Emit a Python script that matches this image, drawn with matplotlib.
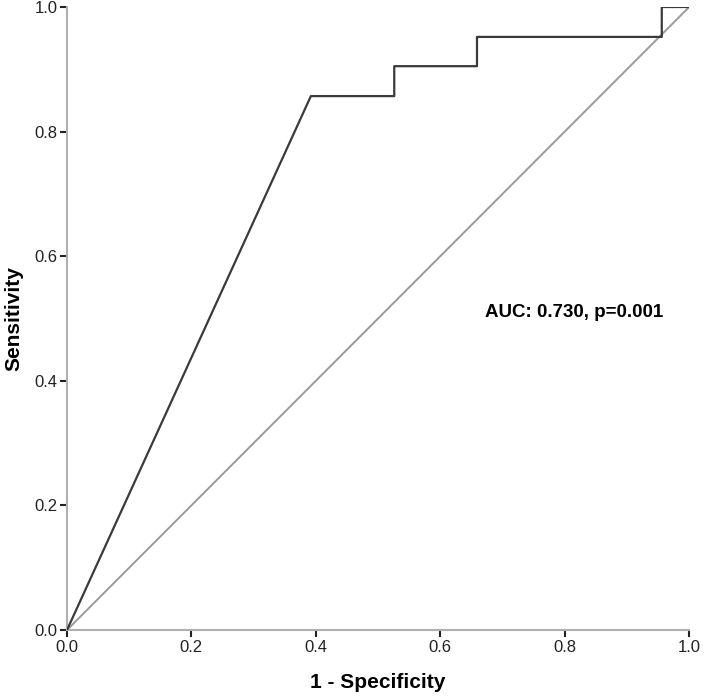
import matplotlib
matplotlib.use("Agg")
import matplotlib.pyplot as plt

plt.rcParams['font.family'] = ['Liberation Sans', 'DejaVu Sans']

# ROC curve points
fpr = [0.0, 0.392, 0.526, 0.526, 0.659, 0.659, 0.956, 0.956, 1.0]
tpr = [0.0, 0.857, 0.857, 0.905, 0.905, 0.952, 0.952, 1.0, 1.0]
ref_line = [0.0, 1.0]
ticks = [0.0, 0.2, 0.4, 0.6, 0.8, 1.0]
auc_text = "AUC: 0.730, p=0.001"

fig = plt.figure(figsize=(7.09, 7.00), dpi=100)
ax = fig.add_axes([0.0945, 0.10, 0.8775, 0.89])

ax.plot(ref_line, ref_line, color="#9a9a9a", lw=1.4, zorder=2)
ax.plot(fpr, tpr, color="#3a3a3a", lw=1.6, zorder=3)

ax.set_xlim(0, 1)
ax.set_ylim(0, 1)
ax.set_xticks(ticks)
ax.set_yticks(ticks)
ax.set_xticklabels([f"{t:.1f}" for t in ticks])
ax.set_yticklabels([f"{t:.1f}" for t in ticks])

for side in ["top", "right"]:
    ax.spines[side].set_visible(False)
for side in ["left", "bottom"]:
    ax.spines[side].set_color("#b0b0b0")
    ax.spines[side].set_linewidth(1.5)

ax.tick_params(direction="out", length=5, width=1.5, color="#222222",
               labelsize=12, labelcolor="#222222", pad=2)

ax.set_xlabel("1 - Specificity", fontsize=15, fontweight="bold", labelpad=13)
ax.set_ylabel("Sensitivity", fontsize=15, fontweight="bold", labelpad=8)

ax.text(0.672, 0.51, auc_text, fontsize=13.5, fontweight="bold",
        transform=ax.transAxes, va="center", ha="left")

fig.savefig("out.png", dpi=100)
